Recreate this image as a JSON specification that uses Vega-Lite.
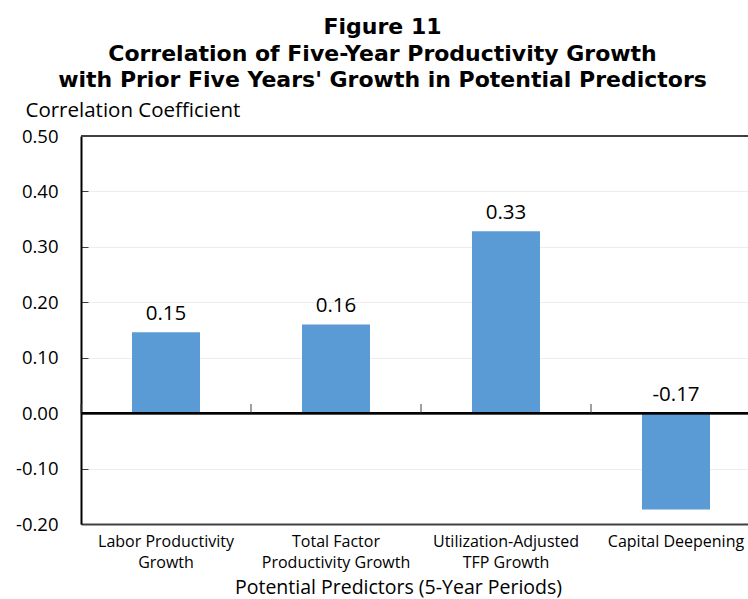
{
  "$schema": "https://vega.github.io/schema/vega-lite/v6.json",
  "width": 667,
  "height": 388,
  "autosize": {"type": "none"},
  "padding": {"left": 81, "top": 136, "right": 0, "bottom": 75},
  "background": "white",
  "config": {
    "view": {"stroke": null},
    "font": "Open Sans",
    "locale": {"number": {"decimal": ".", "thousands": ",", "grouping": [3], "currency": ["$", ""], "minus": "-"}}
  },
  "title": {
    "text": ["Figure 11", "Correlation of Five-Year Productivity Growth", "with Prior Five Years' Growth in Potential Predictors"],
    "font": "DejaVu Sans",
    "fontSize": 22,
    "fontWeight": "bold",
    "color": "black",
    "anchor": "middle",
    "frame": "group",
    "lineHeight": 26.5,
    "offset": 8,
    "dx": -32
  },
  "data": {
    "values": [
      {"predictor": "Labor Productivity|Growth", "value": 0.146},
      {"predictor": "Total Factor|Productivity Growth", "value": 0.160},
      {"predictor": "Utilization-Adjusted|TFP Growth", "value": 0.328},
      {"predictor": "Capital Deepening", "value": -0.174}
    ]
  },
  "layer": [
    {
      "mark": {"type": "bar", "color": "#5B9BD5"},
      "encoding": {
        "x": {
          "field": "predictor",
          "type": "nominal",
          "sort": null,
          "title": "Potential Predictors (5-Year Periods)",
          "scale": {"range": [0, 680], "paddingInner": 0.6, "paddingOuter": 0.3},
          "axis": {
            "orient": "bottom",
            "domain": true,
            "domainColor": "#404040",
            "domainWidth": 2,
            "ticks": false,
            "labelAngle": 0,
            "labelExpr": "split(datum.label, '|')",
            "labelFont": "Open Sans",
            "labelFontSize": 16,
            "labelLineHeight": 21,
            "labelPadding": 9,
            "labelColor": "black",
            "titleFont": "Open Sans",
            "titleFontSize": 19.5,
            "titleFontWeight": "normal",
            "titleColor": "black",
            "titleX": 317,
            "titleY": 69,
            "titleAlign": "center",
            "titleBaseline": "alphabetic"
          }
        },
        "y": {
          "field": "value",
          "type": "quantitative",
          "title": "Correlation Coefficient",
          "scale": {"domain": [-0.2, 0.5], "nice": false, "zero": false},
          "axis": {
            "values": [-0.2, -0.1, 0, 0.1, 0.2, 0.3, 0.4, 0.5],
            "format": ".2f",
            "domain": true,
            "domainColor": "black",
            "domainWidth": 2,
            "grid": true,
            "gridColor": "#ededed",
            "gridWidth": 1,
            "ticks": true,
            "tickSize": -7,
            "tickColor": "#404040",
            "labelPadding": 30,
            "labelFont": "Open Sans",
            "labelFontSize": 18.5,
            "labelColor": "black",
            "titleFont": "Open Sans",
            "titleFontSize": 20.5,
            "titleFontWeight": "normal",
            "titleColor": "black",
            "titleAngle": 0,
            "titleAlign": "left",
            "titleBaseline": "alphabetic",
            "titleX": -56,
            "titleY": -20
          }
        }
      }
    },
    {
      "mark": {"type": "rule", "color": "#404040", "strokeWidth": 2},
      "encoding": {"y": {"datum": 0.5}}
    },
    {
      "mark": {"type": "rule", "color": "black", "strokeWidth": 2},
      "encoding": {"y": {"datum": 0}}
    },
    {
      "mark": {"type": "rule", "color": "#404040", "strokeWidth": 1},
      "encoding": {
        "x": {"field": "predictor", "type": "nominal", "sort": null, "bandPosition": -0.75, "title": "Potential Predictors (5-Year Periods)"},
        "y": {"datum": 0},
        "y2": {"datum": 0.0165}
      }
    },
    {
      "transform": [{"calculate": "max(datum.value, 0)", "as": "labelY"}],
      "mark": {"type": "text", "baseline": "alphabetic", "dy": -12, "font": "Open Sans", "fontSize": 20.5, "color": "black"},
      "encoding": {
        "x": {"field": "predictor", "type": "nominal", "sort": null, "title": "Potential Predictors (5-Year Periods)"},
        "y": {"field": "labelY", "type": "quantitative", "title": "Correlation Coefficient"},
        "text": {"field": "value", "type": "quantitative", "format": ".2f"}
      }
    }
  ]
}
